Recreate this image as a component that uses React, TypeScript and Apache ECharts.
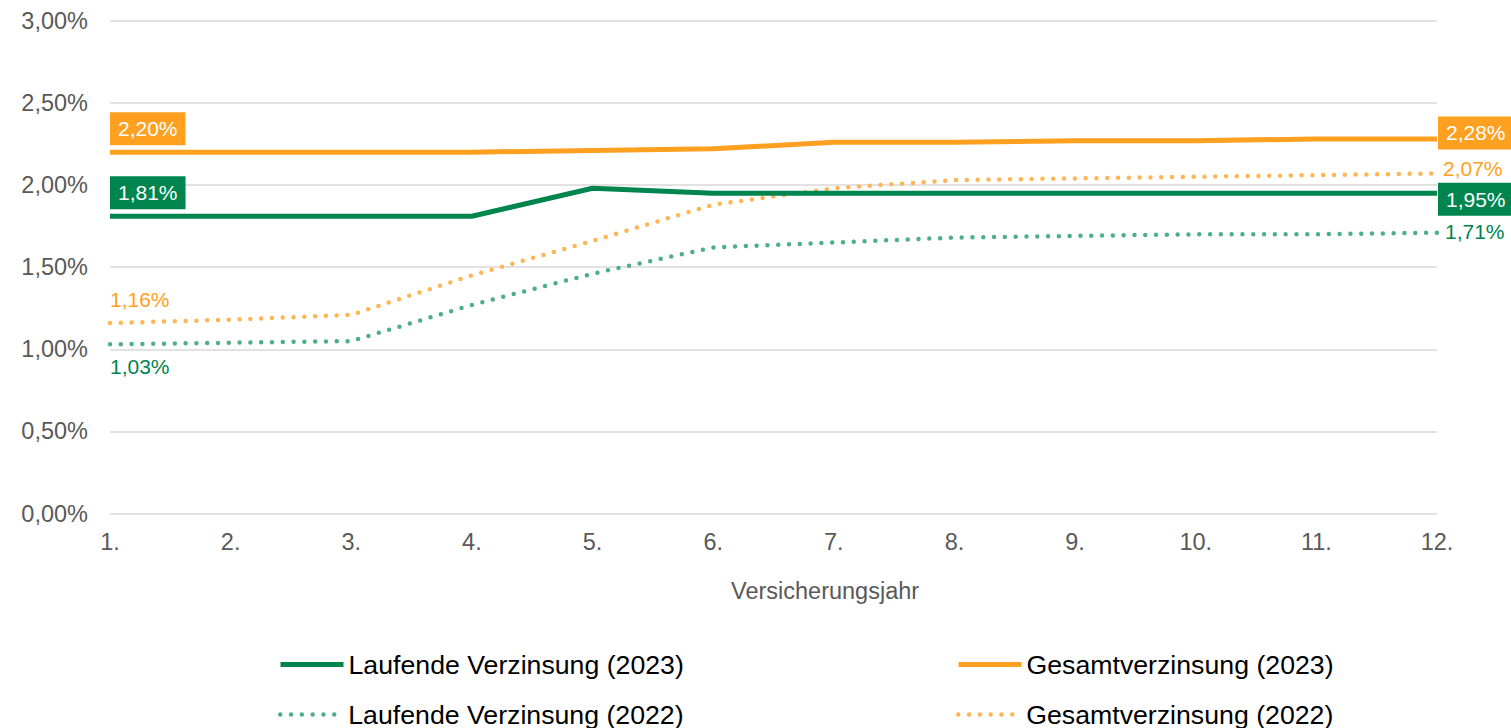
import React, { useEffect, useRef } from 'react';
import * as echarts from 'echarts';

const years = ['1.', '2.', '3.', '4.', '5.', '6.', '7.', '8.', '9.', '10.', '11.', '12.'];
const laufende2023 = [1.81, 1.81, 1.81, 1.81, 1.98, 1.95, 1.95, 1.95, 1.95, 1.95, 1.95, 1.95];
const gesamt2023 = [2.2, 2.2, 2.2, 2.2, 2.21, 2.22, 2.26, 2.26, 2.27, 2.27, 2.28, 2.28];
const laufende2022 = [1.03, 1.04, 1.05, 1.27, 1.46, 1.62, 1.65, 1.68, 1.69, 1.7, 1.7, 1.71];
const gesamt2022 = [1.16, 1.18, 1.21, 1.45, 1.66, 1.88, 1.98, 2.03, 2.04, 2.05, 2.06, 2.07];
const seriesNames = [
  'Laufende Verzinsung (2023)',
  'Gesamtverzinsung (2023)',
  'Laufende Verzinsung (2022)',
  'Gesamtverzinsung (2022)',
];
const yMin = 0;
const yMax = 3;
const yStep = 0.5;
const axisTitle = 'Versicherungsjahr';

const GREEN = '#00854F';
const ORANGE = '#FFA020';
const GREEN_LIGHT = '#4DAF85';
const ORANGE_LIGHT = '#FFB552';
const FONT = '"Liberation Sans", Arial, sans-serif';

const fmt = (v: number) => v.toFixed(2).replace('.', ',') + '%';

function withFirstLabel(values: number[], label: any) {
  return values.map((v, i) =>
    i === 0
      ? { value: v, symbol: 'circle', symbolSize: 0, itemStyle: { color: 'transparent' }, label: { show: true, formatter: (p: any) => fmt(p.value), ...label } }
      : v
  );
}

export default function App() {
  const ref = useRef<HTMLDivElement>(null);
  useEffect(() => {
    if (!ref.current) return;
    const chart = echarts.init(ref.current, null, { renderer: 'svg' });
    const boxLabel = (color: string) => ({
      backgroundColor: color,
      color: '#fff',
      fontSize: 21,
      fontFamily: FONT,
      padding: [6, 8, 6, 8],
      lineHeight: 21,
    });
    const legendBase = {
      orient: 'horizontal',
      padding: 0,
      itemGap: 0,
      itemWidth: 63,
      itemHeight: 14,
      selectedMode: false,
      itemStyle: { opacity: 0 },
      textStyle: { fontSize: 26.7, color: '#000', fontFamily: FONT, padding: [0, 0, 0, 0] },
    };
    chart.setOption({
      animation: false,
      textStyle: { fontFamily: FONT },
      grid: { left: 110, right: 74, top: 20.7, bottom: 214.4, containLabel: false },
      xAxis: {
        type: 'category',
        data: years,
        boundaryGap: false,
        axisLine: { show: false },
        axisTick: { show: false },
        axisLabel: { color: '#595959', fontSize: 23.5, margin: 16, fontFamily: FONT },
        splitLine: { show: false },
      },
      yAxis: {
        type: 'value',
        min: yMin,
        max: yMax,
        interval: yStep,
        axisLine: { show: false },
        axisTick: { show: false },
        axisLabel: { color: '#595959', fontSize: 23.5, margin: 22, fontFamily: FONT, formatter: (v: number) => fmt(v) },
        splitLine: { lineStyle: { color: '#D9D9D9', width: 1.5 } },
      },
      legend: [
        { ...legendBase, data: [seriesNames[0]], left: 278, top: 651, lineStyle: { width: 5, opacity: 1 } },
        { ...legendBase, data: [seriesNames[1]], left: 956, top: 651, lineStyle: { width: 5, opacity: 1 } },
        { ...legendBase, data: [seriesNames[2]], left: 278, top: 701, lineStyle: { width: 4.5, opacity: 1 } },
        { ...legendBase, data: [seriesNames[3]], left: 956, top: 701, lineStyle: { width: 4.5, opacity: 1 } },
      ],
      graphic: [
        {
          type: 'text',
          left: 731,
          top: 579,
          style: { text: axisTitle, fontSize: 23.5, fill: '#595959', fontFamily: FONT },
        },
      ],
      series: [
        {
          name: seriesNames[2],
          type: 'line',
          symbol: 'none',
          z: 2,
          lineStyle: { color: GREEN_LIGHT, width: 4.5, type: [0, 10.8], cap: 'round' },
          itemStyle: { color: GREEN_LIGHT },
          data: withFirstLabel(laufende2022, {
            position: 'bottom', align: 'left', distance: 12, color: GREEN, fontSize: 21, fontFamily: FONT,
          }),
          endLabel: { show: true, formatter: (p: any) => fmt(p.value), color: GREEN, fontSize: 21, fontFamily: FONT, distance: 8, offset: [0, -1] },
        },
        {
          name: seriesNames[3],
          type: 'line',
          symbol: 'none',
          z: 2,
          lineStyle: { color: ORANGE_LIGHT, width: 4.5, type: [0, 10.8], cap: 'round' },
          itemStyle: { color: ORANGE_LIGHT },
          data: withFirstLabel(gesamt2022, {
            position: 'top', align: 'left', distance: 13, color: ORANGE, fontSize: 21, fontFamily: FONT,
          }),
          endLabel: { show: true, formatter: (p: any) => fmt(p.value), color: ORANGE, fontSize: 21, fontFamily: FONT, distance: 6, offset: [0, -5] },
        },
        {
          name: seriesNames[0],
          type: 'line',
          symbol: 'none',
          z: 3,
          lineStyle: { color: GREEN, width: 5 },
          itemStyle: { color: GREEN },
          data: withFirstLabel(laufende2023, { position: 'top', align: 'left', distance: 7, ...boxLabel(GREEN) }),
          endLabel: { show: true, formatter: (p: any) => fmt(p.value), distance: 1, offset: [0, 6], ...boxLabel(GREEN) },
        },
        {
          name: seriesNames[1],
          type: 'line',
          symbol: 'none',
          z: 3,
          lineStyle: { color: ORANGE, width: 5 },
          itemStyle: { color: ORANGE },
          data: withFirstLabel(gesamt2023, { position: 'top', align: 'left', distance: 7, ...boxLabel(ORANGE) }),
          endLabel: { show: true, formatter: (p: any) => fmt(p.value), distance: 1, offset: [0, -6], ...boxLabel(ORANGE) },
        },
      ],
    });
    return () => chart.dispose();
  }, []);
  return <div ref={ref} style={{ position: 'absolute', left: 0, top: 0, width: 1511, height: 728 }} />;
}
